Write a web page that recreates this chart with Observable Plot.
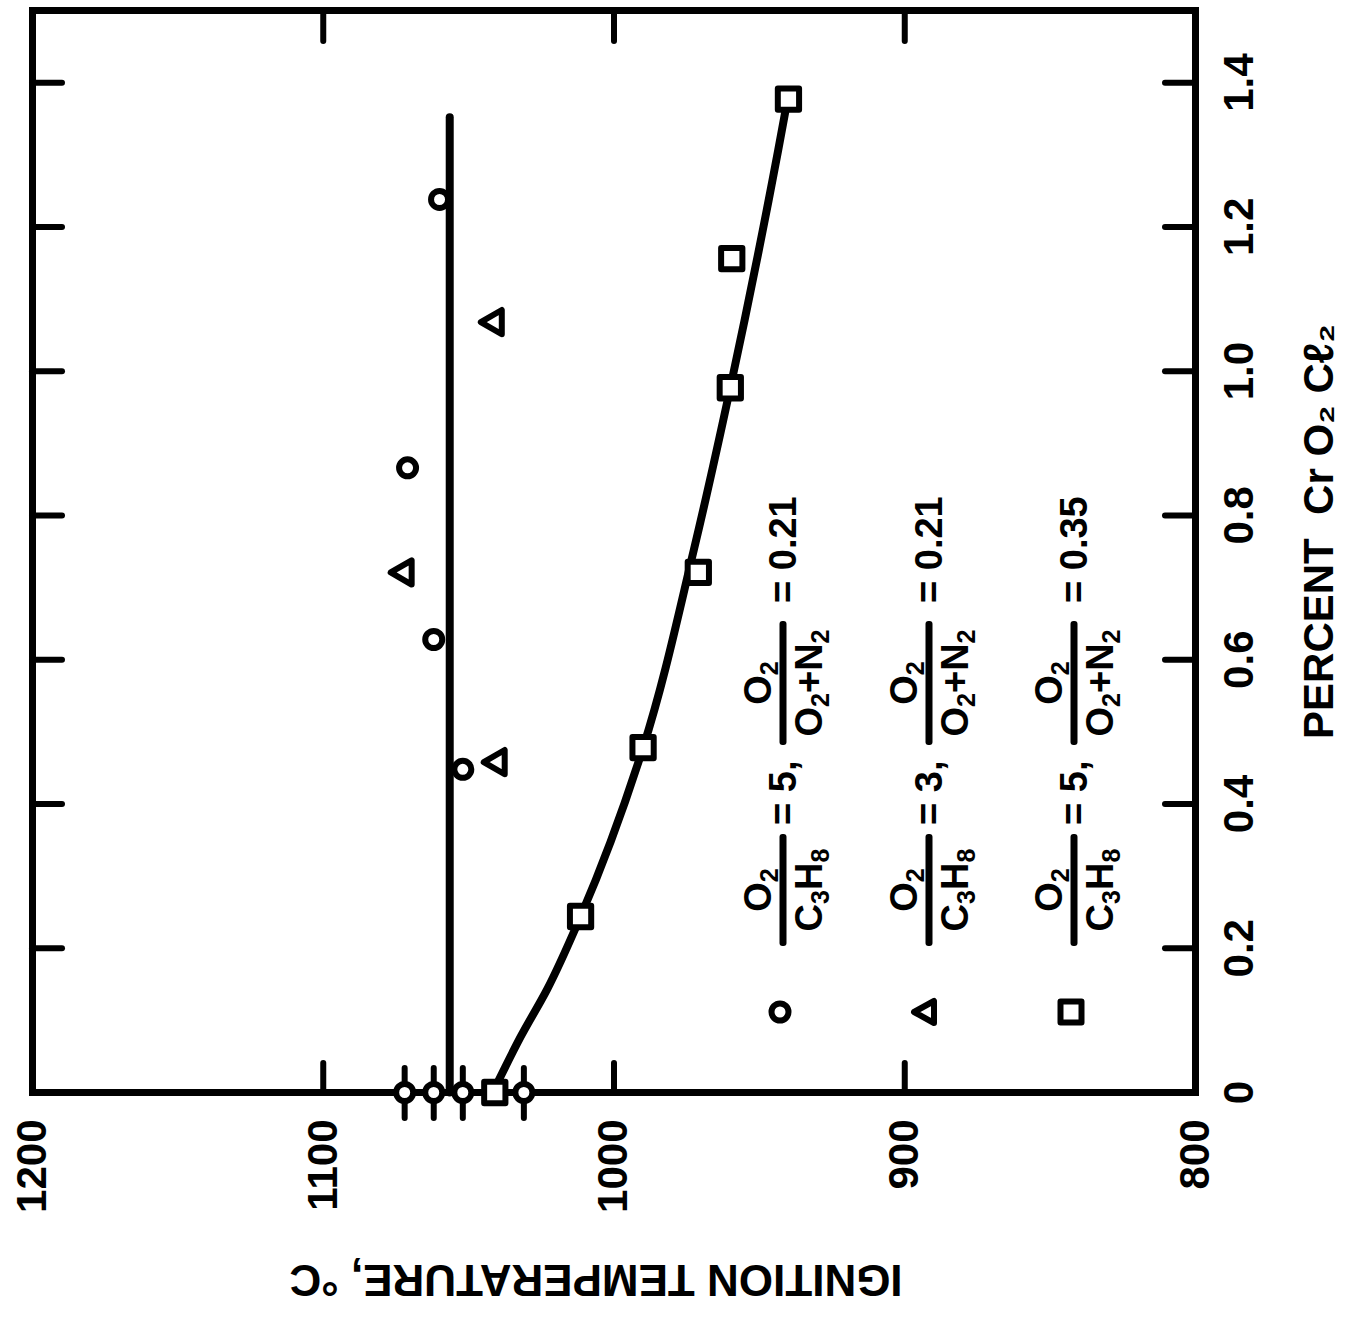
<!DOCTYPE html>
<html>
<head>
<meta charset="utf-8">
<script src="https://cdn.jsdelivr.net/npm/d3@7"></script>
<script src="https://cdn.jsdelivr.net/npm/@observablehq/plot@0.6"></script>
<style>
  html, body { margin: 0; padding: 0; background: #fff; }
  #page { position: relative; width: 1349px; height: 1325px; overflow: hidden; background: #fff; }
  #rot { position: absolute; left: 0; top: 0; width: 1325px; height: 1349px;
         transform-origin: 0 0; transform: translate(0px, 1325px) rotate(-90deg); }
  #rot > svg { position: absolute; left: 0; top: 0; }
  .row { position: absolute; left: 0; height: 0; width: 1325px; }
  .lg { position: absolute; top: 0; transform: translate(-50%, -50%);
        font: bold 38px "Liberation Sans", Arial, sans-serif; color: #000; white-space: nowrap; line-height: 1; }
  .lg.left { transform: translate(0, -50%); }
  .frac { display: flex; flex-direction: column; align-items: center; }
  .frac .num, .frac .den { height: 36px; line-height: 36px; }
  .frac .num { margin-bottom: 4px; }
  .frac .den { margin-top: 4px; }
  .frac .bar { height: 7px; background: #000; border-radius: 3px; }
  sub { font-size: 0.66em; vertical-align: -0.3em; line-height: 0; }
</style>
</head>
<body>
<div id="page"><div id="rot"></div></div>
<script>
// ---- data (percent CrO2Cl2, ignition temperature °C) ----
const percentTicks = [0, 0.2, 0.4, 0.6, 0.8, 1.0, 1.2, 1.4];
const tempTicks = [800, 900, 1000, 1100, 1200];

// O2/C3H8 = 5, O2/(O2+N2) = 0.21  (circles)
const circlePercent = [0, 0, 0, 0, 0.448, 0.628, 0.866, 1.238];
const circleTemp    = [1072, 1062, 1052, 1031, 1052, 1062, 1071, 1060];
// O2/C3H8 = 3, O2/(O2+N2) = 0.21  (triangles)
const trianglePercent = [0.458, 0.721, 1.068];
const triangleTemp    = [1040, 1072, 1041];
// O2/C3H8 = 5, O2/(O2+N2) = 0.35  (squares)
const squarePercent = [0, 0.244, 0.478, 0.721, 0.977, 1.156, 1.377];
const squareTemp    = [1041, 1011.5, 990, 971, 960, 959.5, 940];

// drawn curves
const flatPercent = [0, 1.352];
const flatTemp    = [1056.5, 1056.5];
const curvePercent = [0.01, 0.078, 0.143, 0.244, 0.478, 0.753, 0.977, 1.307, 1.377];
const curveTemp    = [1040.5, 1032, 1023, 1011.5, 990, 972.5, 960, 943.5, 940.3];

// legend
const legendSymbols = ["circle", "triangle", "square"];
const legendFuelRatio = ["5", "3", "5"];
const legendOxygenRatio = ["0.21", "0.21", "0.35"];

// ---- layout (drawn in the original orientation, then turned a quarter turn) ----
const W = 1325, H = 1349;
const mL = 232, mR = 11, mT = 32, mB = 154;
const frameW = W - mL - mR, frameH = H - mT - mB;
const zip = (xs, ys) => xs.map((x, i) => ({percent: x, temp: ys[i]}));
const circles = zip(circlePercent, circleTemp);
const triangles = zip(trianglePercent, triangleTemp);
const squares = zip(squarePercent, squareTemp);
const innerPercent = percentTicks.filter(d => d > 0);
const innerTemp = tempTicks.filter(d => d > 800 && d < 1200);
const FONT = '"Liberation Sans", Arial, "DejaVu Sans", sans-serif';
const tick = 30, sw = 6;

const chart = Plot.plot({
  width: W, height: H,
  marginLeft: mL, marginRight: mR, marginTop: mT, marginBottom: mB,
  style: {background: "#fff", color: "#000", fontFamily: FONT, fontWeight: "bold", fontSize: "42px"},
  x: {domain: [0, 1.5]},
  y: {domain: [800, 1200]},
  marks: [
    Plot.axisX({anchor: "bottom", ticks: percentTicks, tickSize: 0, tickPadding: 28,
      tickFormat: d => d === 0 ? "0" : d.toFixed(1), label: null, fontSize: 42, fontWeight: "bold"}),
    Plot.axisY({anchor: "left", ticks: tempTicks, tickSize: 0, tickPadding: 27,
      tickFormat: d => String(d), label: null, fontSize: 42, fontWeight: "bold"}),
    // inward ticks on all four sides
    Plot.ruleX(innerPercent, {x: d => d, insetTop: frameH - tick, strokeWidth: sw, strokeLinecap: "round"}),
    Plot.ruleX(innerPercent, {x: d => d, insetBottom: frameH - tick, strokeWidth: sw, strokeLinecap: "round"}),
    Plot.ruleY(innerTemp, {y: d => d, insetRight: frameW - tick, strokeWidth: sw, strokeLinecap: "round"}),
    Plot.ruleY(innerTemp, {y: d => d, insetLeft: frameW - tick, strokeWidth: sw, strokeLinecap: "round"}),
    Plot.frame({stroke: "#000", strokeWidth: 7}),
    // short bars through the points that sit on the axis
    Plot.ruleY(circles.filter(d => d.percent === 0), {y: "temp", insetRight: frameW - 50, dx: -25, strokeWidth: 6, strokeLinecap: "round"}),
    // curves
    Plot.line(zip(flatPercent, flatTemp), {x: "percent", y: "temp", stroke: "#000", strokeWidth: 8}),
    Plot.line(zip(curvePercent, curveTemp), {x: "percent", y: "temp", curve: "monotone-x", stroke: "#000", strokeWidth: 8, strokeLinecap: "round"}),
    // points
    Plot.dot(circles, {x: "percent", y: "temp", symbol: "circle", r: 8.5, fill: "#fff", stroke: "#000", strokeWidth: 6}),
    Plot.dot(triangles, {x: "percent", y: "temp", symbol: "triangle", r: 9, fill: "#fff", stroke: "#000", strokeWidth: 6, strokeLinejoin: "round"}),
    Plot.dot(squares, {x: "percent", y: "temp", symbol: "square", r: 12, fill: "#fff", stroke: "#000", strokeWidth: 6, strokeLinejoin: "round"}),
    // axis titles
    Plot.text(["IGNITION TEMPERATURE, °C"], {text: d => d, frameAnchor: "left", textAnchor: "middle", lineAnchor: "middle",
      dx: -187, dy: -18, rotate: -90, fontSize: 44, fontWeight: "bold", fill: "#000"}),
    Plot.text(["PERCENT\u00a0\u00a0Cr\u00a0O\u2082\u00a0C\u2113\u2082"], {text: d => d, frameAnchor: "bottom", textAnchor: "middle", lineAnchor: "middle",
      dx: 20, dy: 124, fontSize: 42, fontWeight: "bold", fill: "#000"})
  ]
});
const rot = document.getElementById("rot");
rot.appendChild(chart);

// ---- legend (inside the frame, lower left in the original orientation) ----
const rowY = [783, 929, 1074];
const symbolSvg = s => {
  if (s === "circle") return '<svg width="34" height="34" viewBox="-17 -17 34 34"><circle r="8.5" fill="#fff" stroke="#000" stroke-width="6"/></svg>';
  if (s === "triangle") return '<svg width="34" height="34" viewBox="-17 -17 34 34"><path d="M0,-12L11,8L-11,8Z" fill="#fff" stroke="#000" stroke-width="6" stroke-linejoin="round"/></svg>';
  return '<svg width="34" height="34" viewBox="-17 -17 34 34"><rect x="-10.5" y="-10.5" width="21" height="21" fill="#fff" stroke="#000" stroke-width="6" stroke-linejoin="round"/></svg>';
};
legendSymbols.forEach((s, i) => {
  const row = document.createElement("div");
  row.className = "row";
  row.style.top = rowY[i] + "px";
  row.innerHTML =
    `<div class="lg" style="left:313px">${symbolSvg(s)}</div>` +
    `<div class="lg" style="left:435px"><div class="frac"><div class="num">O<sub>2</sub></div><div class="bar" style="width:112px"></div><div class="den">C<sub>3</sub>H<sub>8</sub></div></div></div>` +
    `<div class="lg left" style="left:500px">= ${legendFuelRatio[i]},</div>` +
    `<div class="lg" style="left:642px"><div class="frac"><div class="num">O<sub>2</sub></div><div class="bar" style="width:124px"></div><div class="den">O<sub>2</sub>+N<sub>2</sub></div></div></div>` +
    `<div class="lg left" style="left:722px">= ${legendOxygenRatio[i]}</div>`;
  rot.appendChild(row);
});
</script>
</body>
</html>
